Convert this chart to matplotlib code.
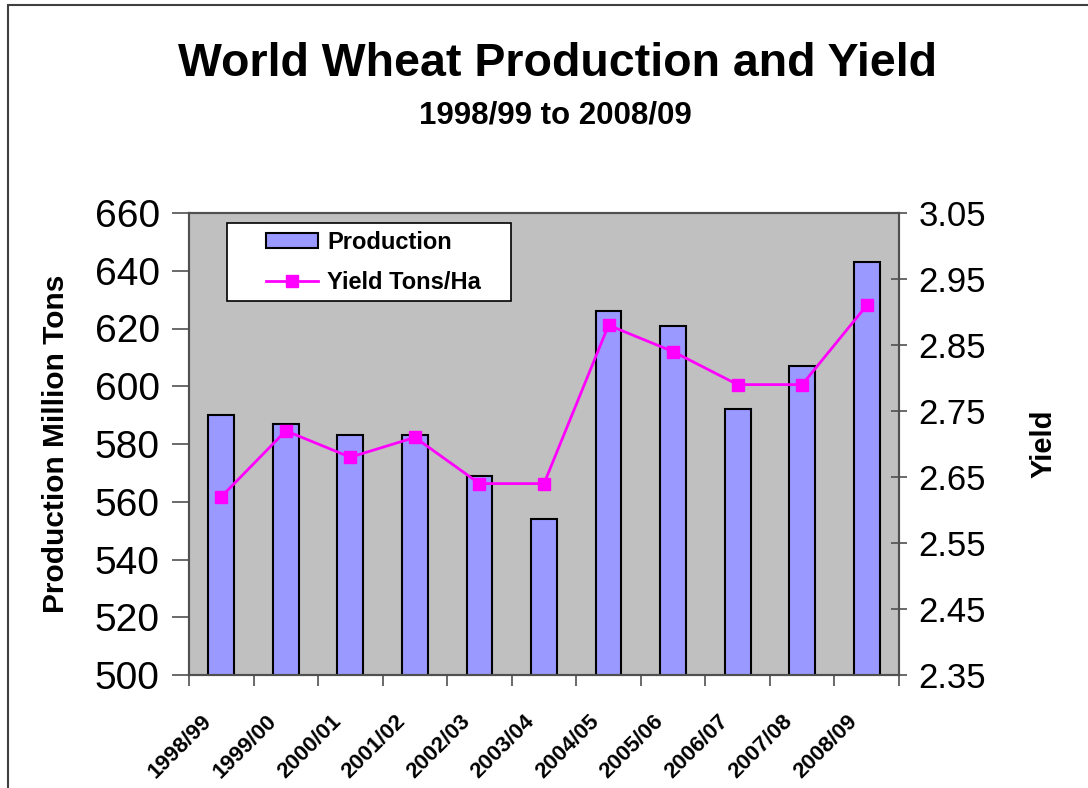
import matplotlib
matplotlib.use("Agg")
import matplotlib.pyplot as plt
import matplotlib.transforms as mtransforms
from matplotlib.patches import Rectangle
import numpy as np

plt.rcParams['font.family'] = ['Liberation Sans', 'DejaVu Sans']

seasons = ['1998/99', '1999/00', '2000/01', '2001/02', '2002/03', '2003/04',
           '2004/05', '2005/06', '2006/07', '2007/08', '2008/09']
production = [590, 587, 583, 583, 569, 554, 626, 621, 592, 607, 643]
yield_t_ha = [2.62, 2.72, 2.68, 2.71, 2.64, 2.64, 2.88, 2.84, 2.79, 2.79, 2.91]
prod_ticks = [500, 520, 540, 560, 580, 600, 620, 640, 660]
yield_ticks = [2.35, 2.45, 2.55, 2.65, 2.75, 2.85, 2.95, 3.05]

W, H = 1088, 788
fig = plt.figure(figsize=(W / 100, H / 100), dpi=100)
fig.patch.set_facecolor('white')

# outer chart border (runs off the right/bottom edge like the original)
fig.patches.append(Rectangle((8 / W, -0.2), 1.5, 1.2 - 5 / H, transform=fig.transFigure,
                             fill=False, edgecolor='#404040', lw=1.5))

ax = fig.add_axes([189 / W, 1 - 675 / H, 710 / W, 462 / H])
ax.set_facecolor('#C0C0C0')
x = np.arange(len(seasons))

ax.bar(x, production, width=0.4, color='#9999FF', edgecolor='black', lw=1.5,
       label='Production', zorder=2)
ax.set_xlim(-0.5, len(seasons) - 0.5)
ax.set_ylim(500, 660)
ax.set_yticks(prod_ticks)
ax.tick_params(axis='y', labelsize=28, length=12, width=1.2, color='#505050', pad=9)
ax.set_ylabel('Production Million Tons', fontsize=21.5, fontweight='bold')
ax.yaxis.set_label_coords(-0.167, 0.5)

ax.set_xticks(x)
ax.set_xticklabels(seasons, rotation=45, ha='right', va='top', rotation_mode='anchor',
                   fontsize=16, fontweight='bold')
ax.tick_params(axis='x', which='major', length=0, pad=26)
ax.set_xticks(np.arange(-0.5, len(seasons)), minor=True)
ax.tick_params(axis='x', which='minor', length=8, width=1.2, color='#505050')
offset = mtransforms.ScaledTranslation(-20 / 100, 0, fig.dpi_scale_trans)
for lbl in ax.get_xticklabels():
    lbl.set_transform(lbl.get_transform() + offset)

for s in ax.spines.values():
    s.set_color('#505050')
    s.set_linewidth(1.5)

ax2 = ax.twinx()
ax2.plot(x, yield_t_ha, color='#FF00FF', lw=2, marker='s', markersize=8,
         label='Yield Tons/Ha', zorder=3)
ax2.set_ylim(2.35, 3.05)
ax2.set_yticks(yield_ticks)
ax2.set_yticklabels([f'{v:.2f}' for v in yield_ticks])
ax2.tick_params(axis='y', labelsize=25, length=12, width=1.2, color='#505050',
                direction='inout', pad=8)
ax2.set_ylabel('Yield', fontsize=21, fontweight='bold')
ax2.yaxis.set_label_coords(1.184, 0.5)
for s in ax2.spines.values():
    s.set_color('#505050')
    s.set_linewidth(1.5)

# legend box
ax2.add_patch(Rectangle((0.0535, 0.8095), 0.3995, 0.1695, transform=ax2.transAxes,
                        facecolor='white', edgecolor='black', lw=1.2, zorder=5))
h1, l1 = ax.get_legend_handles_labels()
h2, l2 = ax2.get_legend_handles_labels()
leg = ax2.legend(h1 + h2, l1 + l2, loc='upper left', bbox_to_anchor=(0.1085, 0.962),
                 frameon=False, borderpad=0, borderaxespad=0, handlelength=2.2,
                 handleheight=0.6, handletextpad=0.4, labelspacing=0.75,
                 prop={'size': 17, 'weight': 'bold'})
leg.set_zorder(6)

fig.text(557 / W, 1 - 64 / H, 'World Wheat Production and Yield', ha='center', va='center',
         fontsize=33.5, fontweight='bold')
fig.text(555 / W, 1 - 116 / H, '1998/99 to 2008/09', ha='center', va='center',
         fontsize=22.5, fontweight='bold')

fig.savefig('out.png', dpi=100)
